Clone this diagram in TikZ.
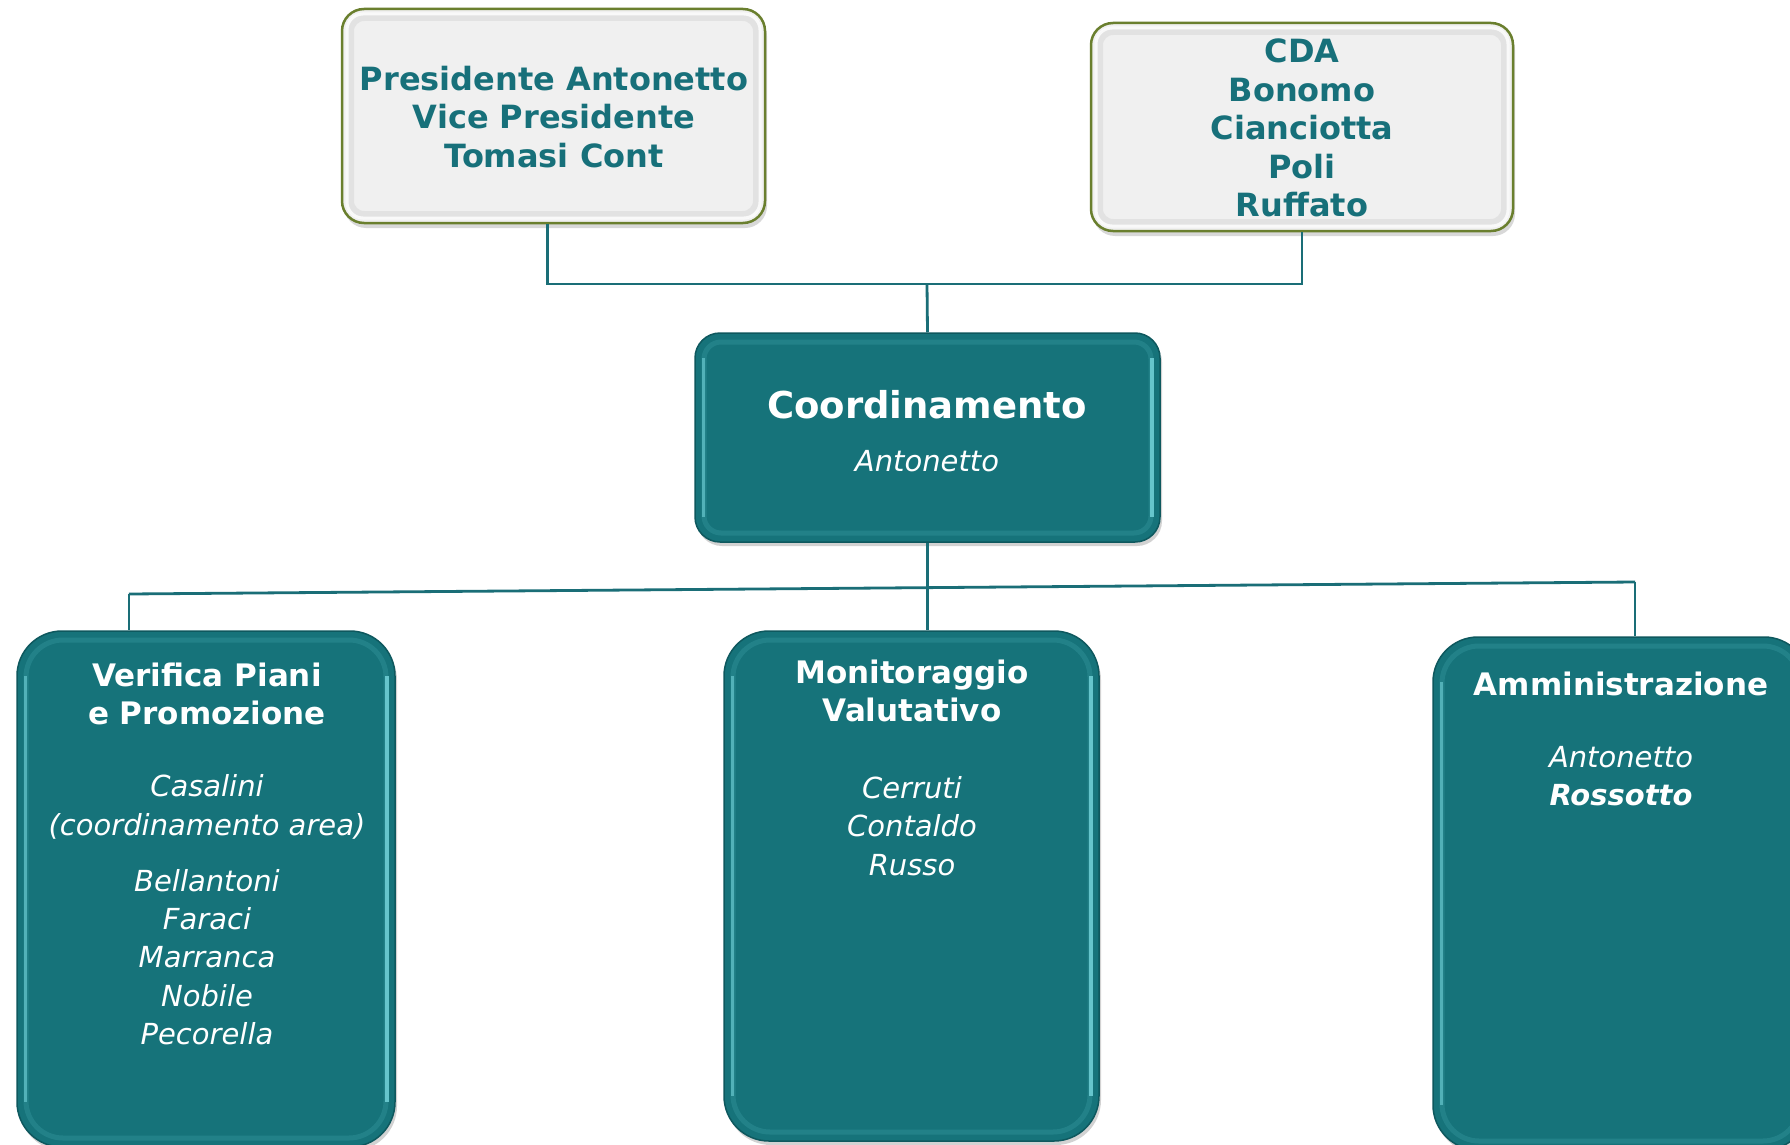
\documentclass[tikz,border=0pt]{standalone}
\usepackage{fontspec}
\setmainfont{DejaVu Sans}
\usetikzlibrary{shadows}
\definecolor{tealfill}{HTML}{16737A}
\definecolor{tealdark}{HTML}{0E585E}
\definecolor{teallight}{HTML}{3FA3AB}
\definecolor{cyanhi}{HTML}{72D2D9}
\definecolor{tealtext}{HTML}{17707A}
\definecolor{olive}{HTML}{6A7F2E}
\definecolor{grayfill}{HTML}{F0F0F0}
\definecolor{grayring}{HTML}{D6D6D6}
\definecolor{linecol}{HTML}{1A6E77}
\tikzset{
  tealbox/.style={draw=tealdark, line width=1.5pt, fill=tealfill, rounded corners=#1,
    drop shadow={shadow xshift=2pt, shadow yshift=-4pt, opacity=.35},
    path picture={
      \draw[line width=5pt, draw=teallight, opacity=.3, rounded corners=#1-8]
        ([shift={(9pt,-9pt)}]path picture bounding box.north west) rectangle
        ([shift={(-9pt,9pt)}]path picture bounding box.south east);
      \draw[line width=3pt, draw=cyanhi, opacity=.6]
        ([shift={(8pt,-#1pt)}]path picture bounding box.north west) --
        ([shift={(8pt,#1pt)}]path picture bounding box.south west);
      \draw[line width=4pt, draw=cyanhi, opacity=.85]
        ([shift={(-8pt,-#1pt)}]path picture bounding box.north east) --
        ([shift={(-8pt,#1pt)}]path picture bounding box.south east);
    }},
  graybox/.style={draw=olive, line width=2.5pt, fill=grayfill, rounded corners=22,
    drop shadow={shadow xshift=2pt, shadow yshift=-5pt, opacity=.3},
    path picture={
      \draw[line width=8pt, draw=grayring, opacity=.5, rounded corners=14]
        ([shift={(8pt,-8pt)}]path picture bounding box.north west) rectangle
        ([shift={(-8pt,8pt)}]path picture bounding box.south east);
      \draw[line width=3pt, draw=white, opacity=.8, rounded corners=16]
        ([shift={(5pt,-5pt)}]path picture bounding box.north west) rectangle
        ([shift={(-5pt,5pt)}]path picture bounding box.south east);
    }},
  toptext/.style={text=tealtext, font=\fontsize{32}{38.5}\selectfont\bfseries, align=center, inner sep=0pt},
  headtext/.style={text=white, font=\fontsize{31}{38.5}\selectfont\bfseries, align=center, inner sep=0pt},
  nametext/.style={text=white, font=\fontsize{29}{38.3}\selectfont\itshape, align=center, inner sep=0pt},
  conn/.style={draw=linecol, line width=2.8pt}
}
\begin{document}
\begin{tikzpicture}[x=1pt,y=-1pt]
\useasboundingbox (0,0) rectangle (1790,1145);
\fill[white] (0,0) rectangle (1790,1145);
\begin{scope}
\clip (0,0) rectangle (1790,1145);
% boxes
\node[graybox, minimum width=423pt, minimum height=214pt, inner sep=0pt] (tl) at (553.5,116) {};
\node[graybox, minimum width=422pt, minimum height=208pt, inner sep=0pt] (tr) at (1302,127) {};
\node[tealbox=25, minimum width=465pt, minimum height=209pt, inner sep=0pt] (co) at (927.5,437.5) {};
\node[tealbox=45, minimum width=378pt, minimum height=516pt, inner sep=0pt] (vp) at (206,889) {};
\node[tealbox=45, minimum width=375pt, minimum height=510pt, inner sep=0pt] (mv) at (911.5,886) {};
\node[tealbox=45, minimum width=376pt, minimum height=513pt, inner sep=0pt] (am) at (1621,893.5) {};
% texts
\node[toptext] (tlt) at (554,117) {Presidente Antonetto\\Vice Presidente\\Tomasi Cont};
\node[toptext] (trt) at (1302,128) {CDA\\Bonomo\\Cianciotta\\Poli\\Ruffato};
\node[text=white, font=\fontsize{37}{44}\selectfont\bfseries, inner sep=0pt] (cot) at (927,405) {Coordinamento};
\node[text=white, font=\fontsize{29}{38}\selectfont\itshape, inner sep=0pt] (con) at (927,461) {Antonetto};
\node[headtext] (vpt) at (207,694) {Verifica Piani\\e Promozione};
\node[nametext] (vpc) at (207,807) {Casalini\\(coordinamento area)};
\node[nametext] (vpn) at (207,957) {Bellantoni\\Faraci\\Marranca\\Nobile\\Pecorella};
\node[headtext] (mvt) at (912,691) {Monitoraggio\\Valutativo};
\node[nametext] (mvn) at (912,826) {Cerruti\\Contaldo\\Russo};
\node[headtext] (amt) at (1621,684) {Amministrazione};
\node[nametext] (amn) at (1621,776) {Antonetto\\{\bfseries Rossotto}};
\end{scope}
% connectors
\coordinate (jt) at (927,284);
\coordinate (bl) at (129,594);
\coordinate (br) at (1635,582);
\draw[conn] ([xshift=-6pt]tl.south) -- ([xshift=-6pt]tl.south |- jt) -- (tr.south |- jt) -- (tr.south);
\draw[conn] (jt) -- (co.north);
\draw[conn] (co.south) -- (co.south |- mv.north);
\draw[conn] (bl) -- (br);
\draw[conn] (bl) -- (bl |- vp.north);
\draw[conn] (br) -- (br |- am.north);
\end{tikzpicture}
\end{document}
